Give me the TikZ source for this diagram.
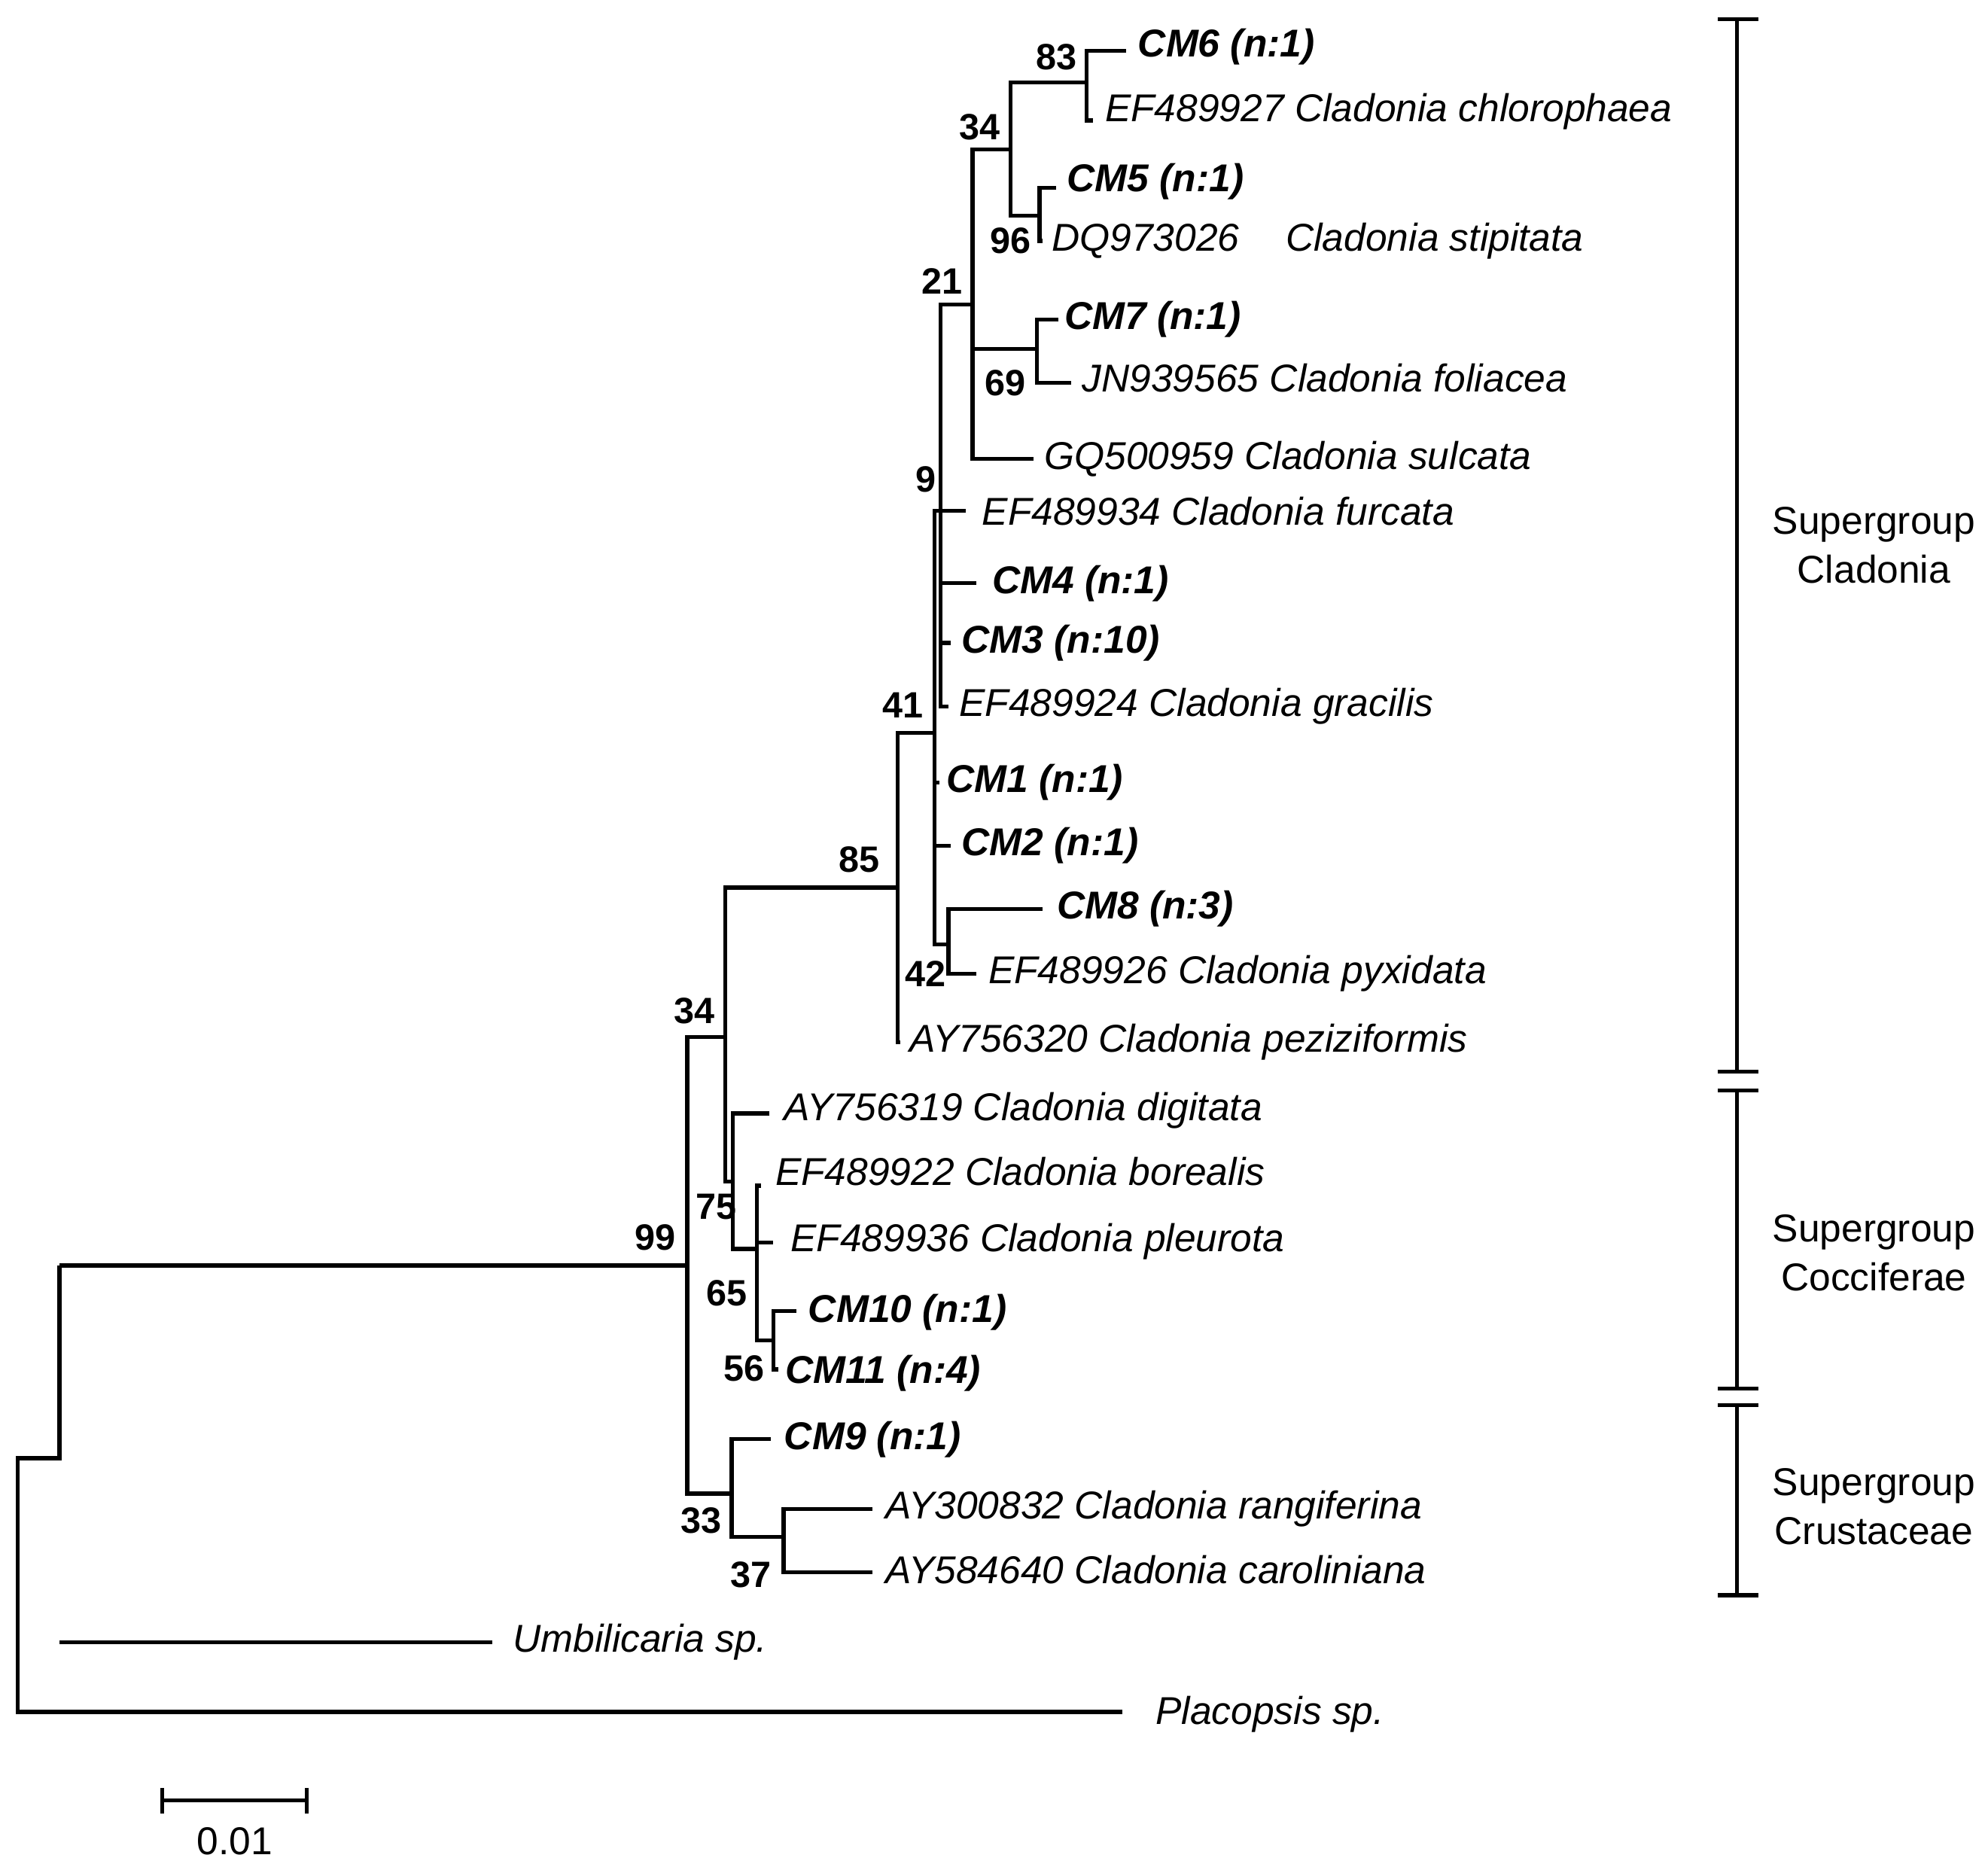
\documentclass[tikz,border=0pt]{standalone}
\usepackage{fontspec}
\setmainfont{Liberation Sans}
\begin{document}
\begin{tikzpicture}[x=0.01cm,y=-0.01cm,line width=0.9pt,
  tip/.style={anchor=west,inner sep=0pt,font=\fontsize{8.7}{10}\selectfont\itshape},
  cmx/.style={anchor=west,inner sep=0pt,font=\fontsize{8.7}{10}\selectfont\bfseries\itshape},
  bs/.style={inner sep=0pt,font=\fontsize{8.2}{10}\selectfont\bfseries},
  grp/.style={align=center,inner sep=0pt,font=\fontsize{8.7}{11}\selectfont}]
\useasboundingbox (0,0) rectangle (1568,1472);
% root
\draw (885,1350) -| (14,1150) -| (47,998);
\node[tip] at (910,1352) (placopsis) {Placopsis sp.};
\draw (47,1295) -- (388,1295);
\node[tip] at (403,1295) (umb) {Umbilicaria sp.};
% 99
\draw (47,998) -- (542,998); \node[bs] at (517,976) (b99) {99};
\draw (572,818) -- (542,818) -- (542,1178) -- (577,1178);
% 34 lower
\node[bs] at (548,797) (b34a) {34};
\draw (708,700) -- (572,700) -- (572,932) -- (578,932);
% 75
\node[bs] at (565,952) (b75) {75};
\draw (607,878) -- (578,878) -- (578,985) -- (597,985);
\node[tip] at (617,876) (dig) {AY756319 Cladonia digitata};
% 65
\node[bs] at (573,1020) (b65) {65};
\draw (600,935) -- (597,935) -- (597,1057) -- (610,1057);
\draw (597,980) -- (610,980);
\node[tip] at (610,924) (bor) {EF489922 Cladonia borealis};
\node[tip] at (622,979) (pleu) {EF489936 Cladonia pleurota};
% 56
\node[bs] at (587,1079) (b56) {56};
\draw (628,1034) -- (610,1034) -- (610,1080) -- (614,1080);
\node[cmx] at (636,1035) (cm10) {CM10 (n:1)};
\node[cmx] at (618,1083) (cm11) {CM11 (n:4)};
% 33
\node[bs] at (553,1199) (b33) {33};
\draw (608,1135) -- (577,1135) -- (577,1212) -- (618,1212);
\node[cmx] at (617,1135) (cm9) {CM9 (n:1)};
\node[bs] at (592,1242) (b37) {37};
\draw (688,1190) -- (618,1190) -- (618,1240) -- (688,1240);
\node[tip] at (697,1190) (rang) {AY300832 Cladonia rangiferina};
\node[tip] at (697,1238) (car) {AY584640 Cladonia caroliniana};
% 85
\node[bs] at (678,678) (b85) {85};
\draw (737,578) -- (708,578) -- (708,822) -- (710,822);
\node[tip] at (716,822) (pez) {AY756320 Cladonia peziziformis};
% 41
\node[bs] at (712,556) (b41) {41};
\draw (742,403) -- (737,403) -- (737,745) -- (748,745);
\draw (737,617) -- (741,617); \node[cmx] at (745,617) (cm1) {CM1 (n:1)};
\draw (737,667) -- (750,667); \node[cmx] at (757,667) (cm2) {CM2 (n:1)};
% 42
\node[bs] at (730,768) (b42) {42};
\draw (822,717) -- (748,717) -- (748,768) -- (770,768);
\node[cmx] at (832,717) (cm8) {CM8 (n:3)};
\node[tip] at (778,768) (pyx) {EF489926 Cladonia pyxidata};
% 9
\node[bs] at (730,378) (b9) {9};
\draw (767,240) -- (742,240) -- (742,557) -- (748,557);
\draw (742,403) -- (762,403); \node[tip] at (773,403) (fur) {EF489934 Cladonia furcata};
\draw (742,460) -- (770,460); \node[cmx] at (781,460) (cm4) {CM4 (n:1)};
\draw (742,507) -- (750,507); \node[cmx] at (757,507) (cm3) {CM3 (n:10)};
\node[tip] at (755,557) (gra) {EF489924 Cladonia gracilis};
% 21
\node[bs] at (743,222) (b21) {21};
\draw (797,118) -- (767,118) -- (767,362) -- (815,362);
\node[tip] at (822,362) (sul) {GQ500959 Cladonia sulcata};
\draw (767,275) -- (818,275);
% 69
\node[bs] at (793,302) (b69) {69};
\draw (835,252) -- (818,252) -- (818,302) -- (845,302);
\node[cmx] at (838,252) (cm7) {CM7 (n:1)};
\node[tip] at (852,298) (fol) {JN939565 Cladonia foliacea};
% 34 upper
\node[bs] at (773,100) (b34b) {34};
\draw (857,65) -- (797,65) -- (797,170) -- (820,170);
% 83
\node[bs] at (833,45) (b83) {83};
\draw (888,40) -- (857,40) -- (857,95) -- (862,95);
\node[cmx] at (896,37) (cm6) {CM6 (n:1)};
\node[tip] at (870,88) (chl) {EF489927 Cladonia chlorophaea};
% 96
\node[bs] at (797,190) (b96) {96};
\draw (833,148) -- (820,148) -- (820,190) -- (822,190);
\node[cmx] at (840,143) (cm5) {CM5 (n:1)};
\node[tip] at (828,190) (sti) {DQ973026\hspace{1.2em}Cladonia stipitata};
% brackets
\foreach \a/\b in {15/845,860/1095,1108/1258}{
  \draw (1370,\a) -- (1370,\b);
  \draw (1355,\a) -- (1387,\a); \draw (1355,\b) -- (1387,\b);}
\node[grp] at (1478,430) (g1) {Supergroup\\Cladonia};
\node[grp] at (1478,988) (g2) {Supergroup\\Cocciferae};
\node[grp] at (1478,1188) (g3) {Supergroup\\Crustaceae};
% scale
\draw (128,1420) -- (242,1420);
\draw (128,1410) -- (128,1430); \draw (242,1410) -- (242,1430);
\node[grp] at (185,1452) (sc) {0.01};
\end{tikzpicture}
\end{document}
